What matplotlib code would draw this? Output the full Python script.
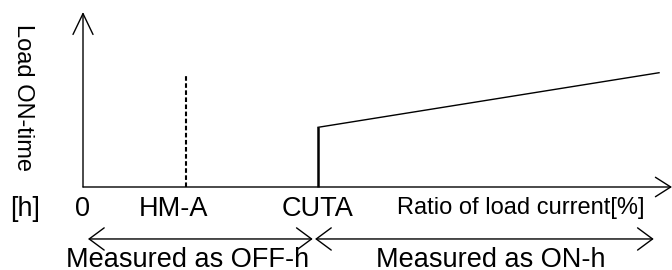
import matplotlib
matplotlib.use("Agg")
import matplotlib.pyplot as plt

plt.rcParams['font.family'] = ['Liberation Sans', 'DejaVu Sans']

# ---- data (chart units: x = ratio of load current, y = load ON-time) ----
x_axis_end = 100.0
y_axis_end = 100.0
hma_x = 17.5
hma_top = 64.0
cuta_x = 39.9
cuta_y = 34.1
line_end_x = 97.8
line_end_y = 65.3
off_range = [0.85, 39.0]
on_range = [39.4, 96.9]
range_y = -29.7

tick_labels = ["0", "HM-A", "CUTA"]
tick_label_x = [-0.17, 15.28, 39.9]
unit_label = "[h]"
x_title = "Ratio of load current[%]"
y_title = "Load ON-time"
range_labels = ["Measured as OFF-h", "Measured as ON-h"]
range_label_x = [17.74, 69.2]

fig = plt.figure(figsize=(6.72, 2.70), dpi=100)
ax = fig.add_axes([0, 0, 1, 1])
ax.set_xlim(-14.092, 100.0)
ax.set_ylim(-47.43, 106.857)
ax.axis('off')

lw_axis = 1.0
# axes arrows
ax.annotate("", xy=(0, y_axis_end), xytext=(0, 0),
            arrowprops=dict(arrowstyle="->,head_length=15,head_width=7.2",
                            mutation_scale=1, lw=lw_axis, color='black',
                            shrinkA=0, shrinkB=0))
ax.annotate("", xy=(x_axis_end, 0), xytext=(0, 0),
            arrowprops=dict(arrowstyle="->,head_length=11,head_width=7",
                            mutation_scale=1, lw=lw_axis, color='black',
                            shrinkA=0, shrinkB=0))

# HM-A dashed line
ax.plot([hma_x, hma_x], [0, hma_top], color='black', lw=1.5,
        dashes=(2.2, 1.2))
# CUTA step and rising line
ax.plot([cuta_x, cuta_x], [0, cuta_y], color='black', lw=1.8,
        solid_capstyle='butt')
ax.plot([cuta_x, line_end_x], [cuta_y, line_end_y], color='black', lw=1.0)

# range double arrows
for rng in (off_range, on_range):
    ax.annotate("", xy=(rng[1], range_y), xytext=(rng[0], range_y),
                arrowprops=dict(arrowstyle="<->,head_length=10.8,head_width=8",
                                mutation_scale=1, lw=1.0, color='black',
                                shrinkA=0, shrinkB=0))

fs_main = 19.5
base_y = -16.57
for lbl, x in zip(tick_labels, tick_label_x):
    ax.text(x, base_y, lbl, ha='center', va='baseline', fontsize=fs_main)
ax.text(-9.85, base_y, unit_label, ha='center', va='baseline', fontsize=fs_main)
ax.text(74.36, -15.43, x_title, ha='center', va='baseline', fontsize=17)
ax.text(-10.2, 51.1, y_title, ha='center', va='center', rotation=270,
        fontsize=17)
for lbl, x in zip(range_labels, range_label_x):
    ax.text(x, -45.7, lbl, ha='center', va='baseline', fontsize=fs_main)

fig.savefig("out.png", dpi=100)
